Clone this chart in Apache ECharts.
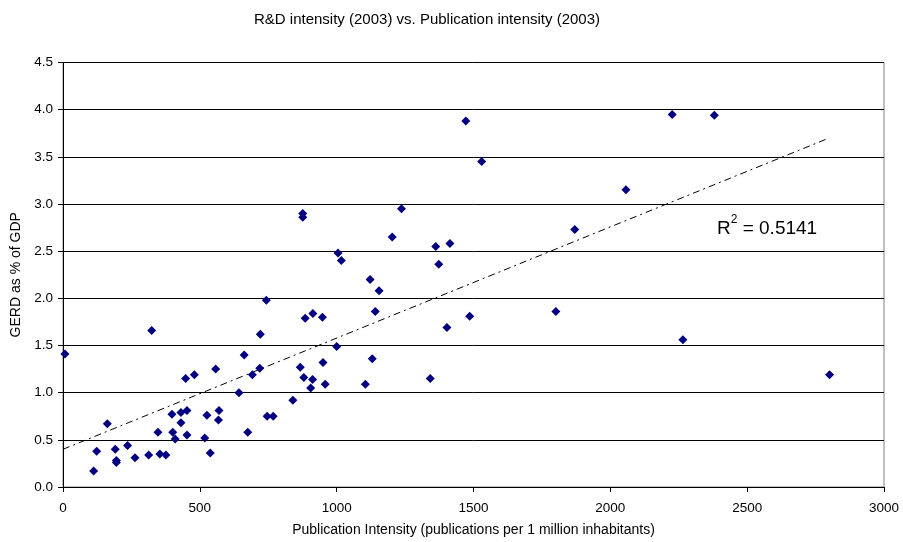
<!DOCTYPE html>
<html><head><meta charset="utf-8">
<script src="https://cdn.jsdelivr.net/npm/echarts@6/dist/echarts.min.js"></script>
<style>html,body{margin:0;padding:0;background:#fff}#c{width:903px;height:542px}</style>
</head><body><div id="c"></div>
<script>
var pubIntensity = [7,112,123,162,191,195,195,236,263,313,324,347,354,376,398,401,410,431,431,453,453,448,480,518,526,538,558,568,570,643,662,675,692,719,721,743,746,768,840,867,880,885,913,948,912,905,950,958,1000,1105,1130,1141,1342,1403,1486,876,876,1237,1472,1530,1203,1005,1017,1362,1414,1373,1122,1155,1870,1801,2226,2380,2057,2265,2801];
var gerd = [1.41,0.17,0.38,0.67,0.40,0.28,0.26,0.44,0.31,0.34,1.66,0.58,0.35,0.34,0.77,0.58,0.51,0.79,0.68,0.81,0.55,1.15,1.19,0.52,0.76,0.36,1.25,0.71,0.81,1.00,1.40,0.58,1.19,1.26,1.62,1.98,0.75,0.75,0.92,1.27,1.16,1.79,1.84,1.80,1.14,1.05,1.32,1.09,1.49,1.09,1.36,1.86,1.15,1.69,1.81,2.90,2.86,2.95,3.88,3.45,2.65,2.48,2.40,2.55,2.58,2.36,2.20,2.08,2.73,1.86,3.95,3.94,3.15,1.56,1.19];
var trendX = [0, 2800];
var trendY = [0.40, 3.70];
var rSquared = '0.5141';

var pts = pubIntensity.map(function(x,i){return [x,gerd[i]];});
var trend = trendX.map(function(x,i){return [x,trendY[i]];});
var font = 'Liberation Sans, Arial, sans-serif';
var chart = echarts.init(document.getElementById('c'), null, {renderer:'canvas'});
chart.setOption({
  backgroundColor:'#fff',
  animation:false,
  title:{text:'R&D intensity (2003) vs. Publication intensity (2003)', left:249, top:7,
    textStyle:{fontFamily:font, fontSize:15, fontWeight:'normal', color:'#000'}},
  grid:{left:63, right:19, top:62.5, bottom:54.5, show:true, borderColor:'#808080', borderWidth:1, backgroundColor:'#fff'},
  xAxis:{type:'value', min:0, max:3000, interval:500,
    name:'Publication Intensity (publications per 1 million inhabitants)', nameLocation:'middle', nameGap:36,
    nameTextStyle:{fontFamily:font, fontSize:14, color:'#000'},
    axisLine:{show:true, lineStyle:{color:'#000', width:1}},
    axisTick:{show:true, length:5, lineStyle:{color:'#000'}},
    axisLabel:{fontFamily:font, fontSize:13.5, color:'#000', margin:14, formatter:function(v){return String(v);}},
    splitLine:{show:false}},
  yAxis:{type:'value', min:0, max:4.5, interval:0.5,
    name:'GERD as % of GDP', nameLocation:'middle', nameGap:38, nameRotate:90,
    nameTextStyle:{fontFamily:font, fontSize:14, color:'#000'},
    axisLine:{show:true, lineStyle:{color:'#000', width:1}},
    axisTick:{show:true, length:5, lineStyle:{color:'#000'}},
    axisLabel:{fontFamily:font, fontSize:13.5, color:'#000', margin:10, formatter:function(v){return v.toFixed(1);}},
    splitLine:{show:true, lineStyle:{color:'#000', width:1}}},
  series:[
    {type:'scatter', data:pts, symbol:'diamond', symbolSize:9, itemStyle:{color:'#000080', opacity:1}, z:3},
    {type:'line', data:trend, symbol:'none', lineStyle:{color:'#000', width:1, type:[7,4,2,4]}, z:2}
  ],
  graphic:[{type:'text', left:717, top:214, style:{
    text:'{r|R}{s|2}{r| = ' + rSquared + '}',
    rich:{r:{fontFamily:font, fontSize:19, fill:'#000', verticalAlign:'bottom', lineHeight:24},
          s:{fontFamily:font, fontSize:12, fill:'#000', verticalAlign:'top', lineHeight:24, padding:[0,0,9,0]}}}}]
});
</script></body></html>
